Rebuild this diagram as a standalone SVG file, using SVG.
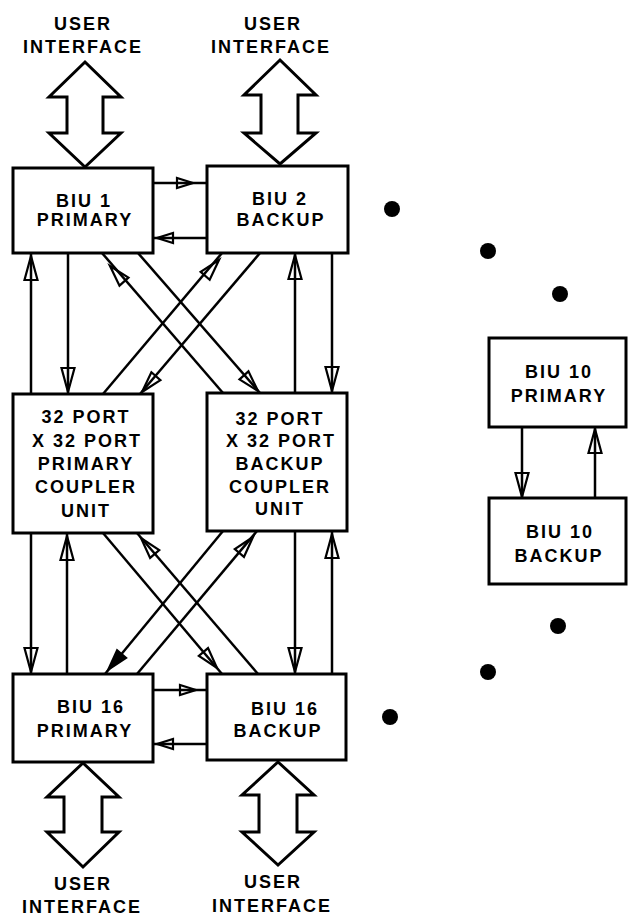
<svg xmlns="http://www.w3.org/2000/svg" xmlns:xlink="http://www.w3.org/1999/xlink" width="628" height="923" viewBox="0 0 628 923">
<style>
.box{fill:#fff;stroke:#000;stroke-width:3}
.lbl{font-family:"Liberation Sans",Arial,sans-serif;font-weight:bold;font-size:18px;letter-spacing:2px;text-anchor:middle;fill:#000}
.ln{stroke:#000;stroke-width:2.5;fill:none}
.head{fill:none;stroke:#000;stroke-width:2.2;stroke-linejoin:miter}
.headf{fill:#000;stroke:#000;stroke-width:2}
.dbl{fill:#fff;stroke:#000;stroke-width:3;stroke-linejoin:miter}
.dot{fill:#000}
</style>
<defs>
<path id="ah" d="M0,0 L-24,-6.5 L-24,6.5 Z"/>
<path id="ahd" d="M0,0 L-21,-6 L-21,6 Z"/>
<path id="ahs" d="M0,0 L-16,-5 L-16,5 Z"/>
</defs>
<rect width="628" height="923" fill="#fff"/>

<g id="connectors">
  <!-- double arrows to user interfaces -->
  <polygon class="dbl" points="85,62 121,97 103,97 103,133 121,133 85,167 49,133 67,133 67,97 49,97"/>
  <polygon class="dbl" points="280,60 316,95 298,95 298,133 316,133 280,164 244,133 261,133 261,95 244,95"/>
  <polygon class="dbl" points="83,763 119,797 102,797 102,832 119,832 83,867 47,832 64,832 64,797 47,797"/>
  <polygon class="dbl" points="278,762 314,795 297,795 297,832 314,832 278,865 242,832 259,832 259,795 242,795"/>

  <!-- horizontal links BIU1 / BIU2 -->
  <line class="ln" x1="153" y1="183" x2="207" y2="183"/>
  <use href="#ahs" class="head" transform="translate(193,183)"/>
  <line class="ln" x1="153" y1="238" x2="207" y2="238"/>
  <use href="#ahs" class="head" transform="translate(157,238) rotate(180)"/>

  <!-- horizontal links BIU16 -->
  <line class="ln" x1="153" y1="690" x2="207" y2="690"/>
  <use href="#ahs" class="head" transform="translate(196,690)"/>
  <line class="ln" x1="153" y1="744" x2="207" y2="744"/>
  <use href="#ahs" class="head" transform="translate(157,744) rotate(180)"/>

  <!-- vertical BIU1 - primary coupler -->
  <line class="ln" x1="31" y1="253" x2="31" y2="394"/>
  <use href="#ah" class="head" transform="translate(31,256) rotate(-90)"/>
  <line class="ln" x1="68" y1="253" x2="68" y2="394"/>
  <use href="#ah" class="head" transform="translate(68,392) rotate(90)"/>

  <!-- vertical BIU2 - backup coupler -->
  <line class="ln" x1="295" y1="253" x2="295" y2="393"/>
  <use href="#ah" class="head" transform="translate(295,255) rotate(-90)"/>
  <line class="ln" x1="332" y1="253" x2="332" y2="393"/>
  <use href="#ah" class="head" transform="translate(332,391) rotate(90)"/>

  <!-- vertical primary coupler - BIU16 primary -->
  <line class="ln" x1="31" y1="533" x2="31" y2="674"/>
  <use href="#ah" class="head" transform="translate(31,672) rotate(90)"/>
  <line class="ln" x1="67" y1="533" x2="67" y2="674"/>
  <use href="#ah" class="head" transform="translate(67,536) rotate(-90)"/>

  <!-- vertical backup coupler - BIU16 backup -->
  <line class="ln" x1="295" y1="531" x2="295" y2="674"/>
  <use href="#ah" class="head" transform="translate(295,672) rotate(90)"/>
  <line class="ln" x1="332" y1="531" x2="332" y2="674"/>
  <use href="#ah" class="head" transform="translate(332,534) rotate(-90)"/>

  <!-- upper crossing -->
  <line class="ln" x1="102" y1="253" x2="223" y2="393"/>
  <use href="#ahd" class="head" transform="translate(110,266) rotate(-131.7)"/>
  <line class="ln" x1="138" y1="253" x2="260" y2="393"/>
  <use href="#ahd" class="head" transform="translate(258,391) rotate(48.1)"/>
  <line class="ln" x1="222" y1="253" x2="103" y2="394"/>
  <use href="#ahd" class="head" transform="translate(219,260) rotate(-48.8)"/>
  <line class="ln" x1="260" y1="253" x2="140" y2="394"/>
  <use href="#ahd" class="head" transform="translate(142,392) rotate(131.4)"/>

  <!-- lower crossing -->
  <line class="ln" x1="103" y1="533" x2="222" y2="674"/>
  <use href="#ahd" class="head" transform="translate(217,668) rotate(49.8)"/>
  <line class="ln" x1="137" y1="533" x2="258" y2="674"/>
  <use href="#ahd" class="head" transform="translate(141,538) rotate(-130.6)"/>
  <line class="ln" x1="223" y1="531" x2="105" y2="674"/>
  <use href="#ahd" class="headf" transform="translate(108,670) rotate(130.5)"/>
  <line class="ln" x1="257" y1="531" x2="137" y2="674"/>
  <use href="#ahd" class="head" transform="translate(253,537) rotate(-49.6)"/>

  <!-- BIU10 pair -->
  <line class="ln" x1="522" y1="427" x2="522" y2="498"/>
  <use href="#ah" class="head" transform="translate(522,497) rotate(90)"/>
  <line class="ln" x1="595" y1="427" x2="595" y2="498"/>
  <use href="#ah" class="head" transform="translate(595,429) rotate(-90)"/>
</g>

<g id="ui-top-left"><text class="lbl" x="83" y="30">USER</text><text class="lbl" x="83" y="53">INTERFACE</text></g>
<g id="ui-top-right"><text class="lbl" x="273" y="30">USER</text><text class="lbl" x="271" y="53">INTERFACE</text></g>
<g id="ui-bottom-left"><text class="lbl" x="83" y="890">USER</text><text class="lbl" x="82" y="913">INTERFACE</text></g>
<g id="ui-bottom-right"><text class="lbl" x="273" y="888">USER</text><text class="lbl" x="272" y="912">INTERFACE</text></g>

<g id="biu1-primary">
  <rect class="box" x="13" y="168" width="140" height="85"/>
  <text class="lbl" x="84" y="207">BIU 1</text>
  <text class="lbl" x="85" y="226">PRIMARY</text>
</g>
<g id="biu2-backup">
  <rect class="box" x="207" y="166" width="141" height="87"/>
  <text class="lbl" x="280" y="205">BIU 2</text>
  <text class="lbl" x="281" y="226">BACKUP</text>
</g>
<g id="primary-coupler">
  <rect class="box" x="13" y="394" width="140" height="139"/>
  <text class="lbl" x="86" y="423">32 PORT</text>
  <text class="lbl" x="87" y="447">X 32 PORT</text>
  <text class="lbl" x="86" y="470">PRIMARY</text>
  <text class="lbl" x="86" y="493">COUPLER</text>
  <text class="lbl" x="86" y="517">UNIT</text>
</g>
<g id="backup-coupler">
  <rect class="box" x="207" y="393" width="140" height="138"/>
  <text class="lbl" x="280" y="425">32 PORT</text>
  <text class="lbl" x="281" y="447">X 32 PORT</text>
  <text class="lbl" x="280" y="470">BACKUP</text>
  <text class="lbl" x="280" y="493">COUPLER</text>
  <text class="lbl" x="280" y="515">UNIT</text>
</g>
<g id="biu16-primary">
  <rect class="box" x="13" y="674" width="140" height="88"/>
  <text class="lbl" x="91" y="713">BIU 16</text>
  <text class="lbl" x="85" y="737">PRIMARY</text>
</g>
<g id="biu16-backup">
  <rect class="box" x="207" y="674" width="139" height="86"/>
  <text class="lbl" x="285" y="715">BIU 16</text>
  <text class="lbl" x="278" y="737">BACKUP</text>
</g>
<g id="biu10-primary">
  <rect class="box" x="489" y="338" width="137" height="89"/>
  <text class="lbl" x="559" y="378">BIU 10</text>
  <text class="lbl" x="559" y="402">PRIMARY</text>
</g>
<g id="biu10-backup">
  <rect class="box" x="489" y="498" width="137" height="86"/>
  <text class="lbl" x="560" y="538">BIU 10</text>
  <text class="lbl" x="559" y="562">BACKUP</text>
</g>

<g id="ellipsis-dots">
  <circle class="dot" cx="392" cy="209" r="8"/>
  <circle class="dot" cx="488" cy="251" r="8"/>
  <circle class="dot" cx="560" cy="294" r="8"/>
  <circle class="dot" cx="558" cy="626" r="8"/>
  <circle class="dot" cx="488" cy="672" r="8"/>
  <circle class="dot" cx="390" cy="717" r="8"/>
</g>
</svg>
